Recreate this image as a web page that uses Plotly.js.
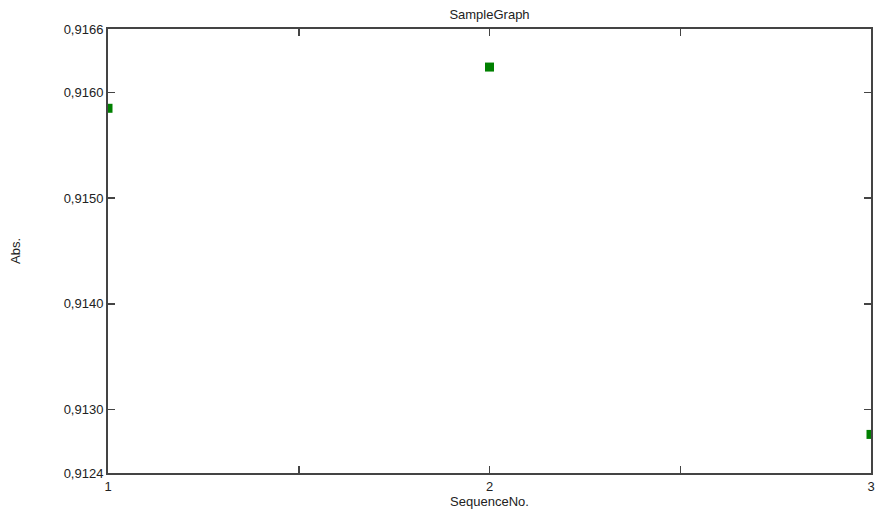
<!DOCTYPE html>
<html>
<head>
<meta charset="utf-8">
<script src="https://cdn.plot.ly/plotly-3.0.1.min.js"></script>
<style>html,body{margin:0;padding:0;background:#fff;}#chart{width:875px;height:515px;}</style>
</head>
<body>
<div id="chart"></div>
<script>
const sequenceNo = [1, 2, 3];
const absValues = [0.91585, 0.91624, 0.912765];
const xTickVals = [1, 1.5, 2, 2.5, 3];
const xTickText = ["1", "", "2", "", "3"];
const yTickVals = [0.9124, 0.9130, 0.9140, 0.9150, 0.9160, 0.9166];
const yTickText = ["0,9124", "0,9130", "0,9140", "0,9150", "0,9160", "0,9166"];

const font = {family: "Liberation Sans, Arial, sans-serif", size: 13, color: "#222"};

Plotly.newPlot("chart", [{
  x: sequenceNo,
  y: absValues,
  type: "scatter",
  mode: "markers",
  marker: {symbol: "square", size: 9, color: "#008000"},
  cliponaxis: true,
  showlegend: false
}], {
  width: 875,
  height: 515,
  margin: {l: 108, r: 4, t: 29, b: 42},
  paper_bgcolor: "#fff",
  plot_bgcolor: "#fff",
  font: font,
  title: {text: "SampleGraph", x: 0.5, xref: "paper", y: 0.971, yref: "container", yanchor: "middle", font: {family: font.family, size: 13, color: "#222"}},
  xaxis: {
    range: [1, 3],
    tickvals: xTickVals,
    ticktext: xTickText,
    ticks: "inside",
    ticklen: 7,
    tickcolor: "#444",
    tickwidth: 1.5,
    showgrid: false,
    zeroline: false,
    showline: true,
    linecolor: "#444",
    linewidth: 2,
    mirror: "ticks",
    tickfont: font,
    title: {text: "SequenceNo.", font: font, standoff: 3}
  },
  yaxis: {
    range: [0.9124, 0.9166],
    tickvals: yTickVals,
    ticktext: yTickText,
    ticks: "inside",
    ticklen: 7,
    tickcolor: "#444",
    tickwidth: 1.5,
    showgrid: false,
    zeroline: false,
    showline: true,
    linecolor: "#444",
    linewidth: 2,
    mirror: "ticks",
    tickfont: font,
    title: {text: "Abs.", font: font, standoff: 40}
  }
}, {staticPlot: true});
</script>
</body>
</html>
